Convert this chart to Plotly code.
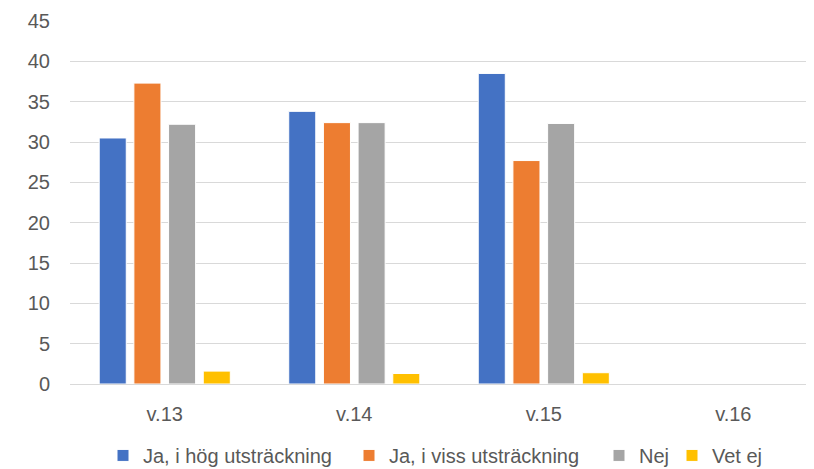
import plotly.graph_objects as go

categories = ["v.13", "v.14", "v.15", "v.16"]
series_names = ["Ja, i hög utsträckning", "Ja, i viss utsträckning", "Nej", "Vet ej"]
hog = [30.5, 33.8, 38.5, None]
viss = [37.3, 32.4, 27.7, None]
nej = [32.2, 32.4, 32.3, None]
vet_ej = [1.6, 1.3, 1.4, None]
colors = ["#4472C4", "#ED7D31", "#A5A5A5", "#FFC000"]
y_ticks = [0, 5, 10, 15, 20, 25, 30, 35, 40, 45]

# separate legend boxes so each entry sits where the reference puts it
legend_ids = ["legend", "legend2", "legend3", "legend4"]
legend_x_px = [95, 341, 591, 664]

fig = go.Figure()
for name, vals, col, lid in zip(series_names, [hog, viss, nej, vet_ej], colors, legend_ids):
    fig.add_trace(go.Bar(x=categories, y=vals, name=name, legend=lid,
                         marker=dict(color=col, line=dict(color="white", width=1))))

W, H = 814, 469
legend_common = dict(orientation="h", xanchor="left", xref="container",
                     y=0.046, yanchor="middle", yref="container",
                     font=dict(size=20, color="#595959"), itemwidth=30,
                     bgcolor="rgba(0,0,0,0)", borderwidth=0)
layout_legends = {lid: dict(legend_common, x=px / W) for lid, px in zip(legend_ids, legend_x_px)}

fig.update_layout(
    width=W, height=H,
    margin=dict(l=62, r=0, t=13, b=93, autoexpand=False),
    paper_bgcolor="white", plot_bgcolor="white",
    barmode="group", bargap=0.268, bargroupgap=0.22,
    font=dict(family="Liberation Sans, Arial, sans-serif", size=20, color="#595959"),
    showlegend=True,
    **layout_legends,
)
fig.update_yaxes(range=[0, 45], tickvals=y_ticks, showgrid=True, gridcolor="#D9D9D9",
                 gridwidth=1, zeroline=False, showline=False, ticks="", ticklabelstandoff=19)
fig.update_xaxes(range=[-0.5, 3.468], showline=True, linecolor="#D9D9D9", linewidth=1,
                 ticks="", showgrid=False, ticklabelstandoff=12)

fig.write_html("out.html")
